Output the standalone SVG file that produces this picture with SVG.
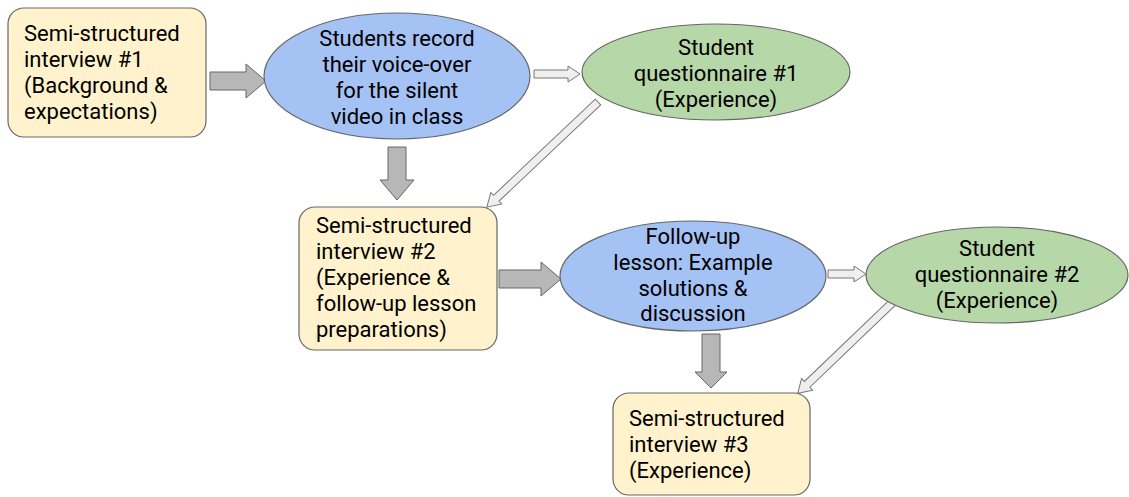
<svg xmlns="http://www.w3.org/2000/svg" width="1129" height="497" viewBox="0 0 1129 497">
<style>
text{font-family:Roboto,"Liberation Sans",sans-serif;font-size:22px;fill:#000}
.box{fill:#fff2cc;stroke:#666;stroke-width:1.2}
.blue{fill:#a4c2f4;stroke:#666;stroke-width:1.2}
.green{fill:#b6d7a8;stroke:#666;stroke-width:1.2}
.thick{fill:#b7b7b7;stroke:#666;stroke-width:1}
.light{fill:#efefef;stroke:#777;stroke-width:1}
.c{text-anchor:middle}
</style>
<rect width="1129" height="497" fill="#fff"/>
<g id="connectors">
<polygon class="thick" transform="translate(210,81)" points="0,-9 36,-9 36,-17 56,0 36,17 36,9 0,9"/>
<polygon class="thick" transform="translate(397,147) rotate(90)" points="0,-9 33,-9 33,-17 53,0 33,17 33,9 0,9"/>
<polygon class="thick" transform="translate(499,279)" points="0,-9 42,-9 42,-17 62,0 42,17 42,9 0,9"/>
<polygon class="thick" transform="translate(711,334) rotate(90)" points="0,-9 38,-9 38,-16 54,0 38,16 38,9 0,9"/>
<polygon class="light" transform="translate(534,74)" points="0,-4 34,-4 34,-8 46,0 34,8 34,4 0,4"/>
<polygon class="light" transform="translate(828,274)" points="0,-4 26,-4 26,-8 38,0 26,8 26,4 0,4"/>
<polygon class="light" transform="translate(598,102) rotate(136.6)" points="0,-4 140,-4 140,-8 153,0 140,8 140,4 0,4"/>
<polygon class="light" transform="translate(893,302) rotate(136.2)" points="0,-4 119,-4 119,-8 132,0 119,8 119,4 0,4"/>
</g>
<g id="interview1">
<rect class="box" x="8" y="8" width="198" height="129" rx="16"/>
<text x="24" y="41">Semi-structured</text>
<text x="24" y="67">interview #1</text>
<text x="24" y="93">(Background &amp;</text>
<text x="24" y="119">expectations)</text>
</g>
<g id="record">
<ellipse class="blue" cx="397" cy="76" rx="133" ry="63"/>
<text class="c" x="397" y="46">Students record</text>
<text class="c" x="397" y="72">their voice-over</text>
<text class="c" x="397" y="98">for the silent</text>
<text class="c" x="397" y="124">video in class</text>
</g>
<g id="questionnaire1">
<ellipse class="green" cx="716" cy="72" rx="134" ry="48"/>
<text class="c" x="716" y="55">Student</text>
<text class="c" x="716" y="81">questionnaire #1</text>
<text class="c" x="716" y="107">(Experience)</text>
</g>
<g id="interview2">
<rect class="box" x="299" y="207" width="198" height="143" rx="16"/>
<text x="316" y="233">Semi-structured</text>
<text x="316" y="259">interview #2</text>
<text x="316" y="285">(Experience &amp;</text>
<text x="316" y="311">follow-up lesson</text>
<text x="316" y="337">preparations)</text>
</g>
<g id="followup">
<ellipse class="blue" cx="693" cy="276" rx="133" ry="55"/>
<text class="c" x="693" y="244">Follow-up</text>
<text class="c" x="693" y="270">lesson: Example</text>
<text class="c" x="693" y="296">solutions &amp;</text>
<text class="c" x="693" y="321">discussion</text>
</g>
<g id="questionnaire2">
<ellipse class="green" cx="997" cy="275" rx="131" ry="48"/>
<text class="c" x="997" y="256">Student</text>
<text class="c" x="997" y="282">questionnaire #2</text>
<text class="c" x="997" y="308">(Experience)</text>
</g>
<g id="interview3">
<rect class="box" x="613" y="393" width="197" height="102" rx="16"/>
<text x="629" y="426">Semi-structured</text>
<text x="629" y="452">interview #3</text>
<text x="629" y="478">(Experience)</text>
</g>
</svg>
